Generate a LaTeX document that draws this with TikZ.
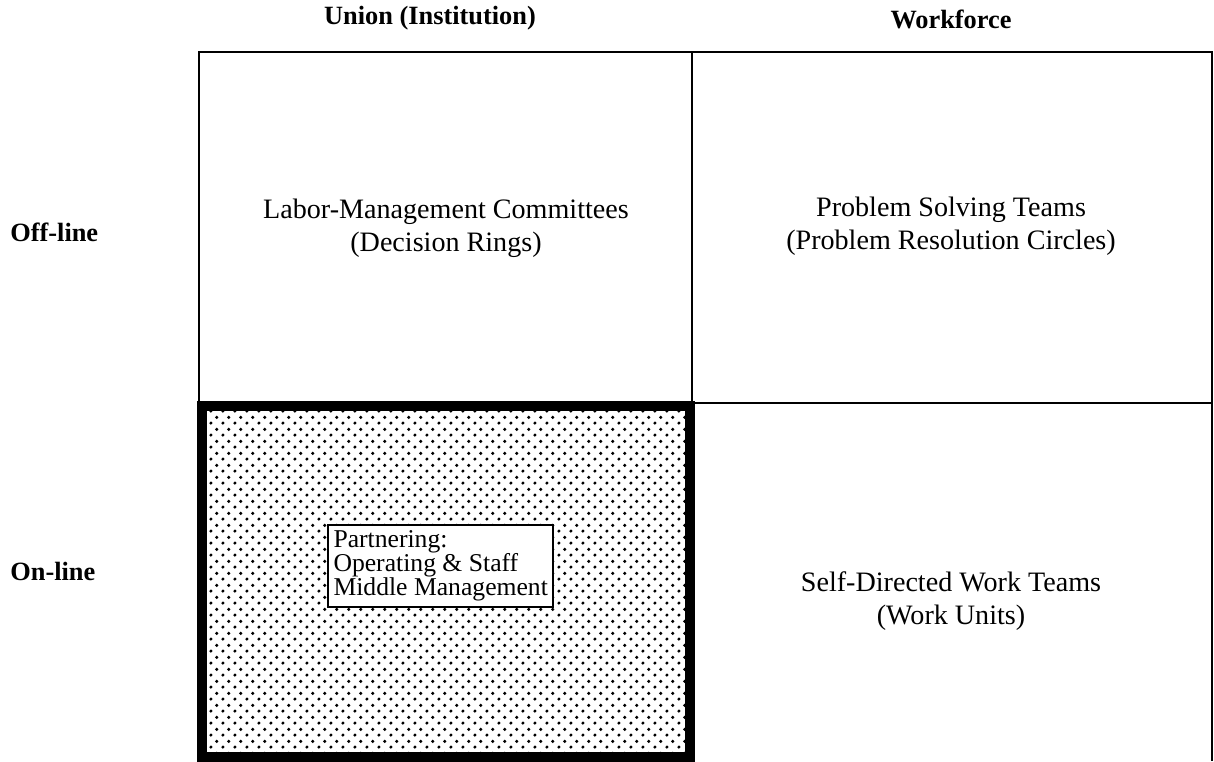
\documentclass[tikz,border=0pt]{standalone}
\usepackage{fontspec}
\setmainfont{Liberation Serif}
\usetikzlibrary{patterns.meta}

\tikzdeclarepattern{
  name=partner dots,
  type=uncolored,
  bounding box={(0,0) and (7pt,7pt)},
  tile size={(7pt,7pt)},
  code={
    \fill (1.75pt,1.75pt) circle (1.05pt);
    \fill (5.25pt,5.25pt) circle (1.05pt);
  }
}

\begin{document}
\begin{tikzpicture}[
    x=0.02cm,y=-0.02cm,
    grid line/.style={line width=1.6pt},
    partner frame/.style={line width=5.6pt,pattern=partner dots},
    axis tag/.style={font=\fontsize{15}{18}\selectfont\bfseries,inner sep=0pt},
    cell text/.style={align=center,font=\fontsize{16}{18.8}\selectfont,inner sep=0pt},
    partner tag/.style={draw,line width=1.4pt,fill=white,align=left,anchor=north west,
      inner sep=3pt,font=\fontsize{14.6}{13.8}\selectfont},
  ]
  \useasboundingbox (0,0) rectangle (1214,761);

  % frame and quadrants
  \coordinate (top-left) at (199,52);
  \coordinate (top-mid) at (692,52);
  \coordinate (top-right) at (1212,52);
  \coordinate (bot-left) at (199,761);
  \coordinate (bot-mid) at (692,761);
  \coordinate (bot-right) at (1212,761);
  \coordinate (row-left) at (199,403);
  \coordinate (row-right) at (1212,403);

  \draw[grid line] (bot-left) -- (top-left) -- (top-right) -- (bot-right);
  \draw[grid line] (top-mid) -- (bot-mid);
  \draw[grid line] (row-left) -- (row-right);

  \draw[partner frame] (202,406) rectangle (690,757);

  % column and row headings
  \node[axis tag] (union) at (430,18) {Union (Institution)};
  \node[axis tag] (workforce) at (951,19) {Workforce};
  \node[axis tag,anchor=west] (offline) at (10,232) {Off-line};
  \node[axis tag,anchor=west] (online) at (10,571) {On-line};

  \node[cell text] (committees) at (446,228) {Labor-Management Committees\\(Decision Rings)};
  \node[cell text] (problem-teams) at (951,226) {Problem Solving Teams\\(Problem Resolution Circles)};
  \node[cell text] (work-teams) at (951,601) {Self-Directed Work Teams\\(Work Units)};

  \node[partner tag] (partnering) at (327,524) {Partnering:\\Operating \& Staff\\Middle Management};

\end{tikzpicture}
\end{document}
